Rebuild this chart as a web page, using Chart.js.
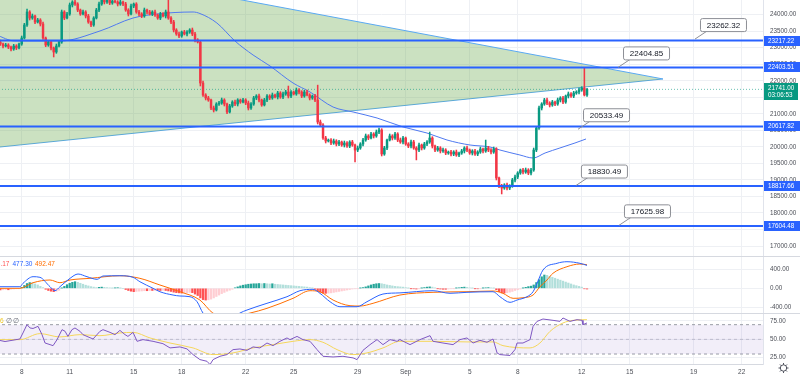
<!DOCTYPE html>
<html lang="en">
<head>
<meta charset="UTF-8">
<title>BTCUSD 4h</title>
<script src="https://cdn.jsdelivr.net/npm/chart.js"></script>
<style>
  html, body { margin: 0; padding: 0; background: #fff; }
  #wrap { position: relative; width: 800px; height: 379px; overflow: hidden; }
  #wrap canvas { position: absolute; left: 0; }
  #main { top: 0; }
  #macd { top: 256px; }
  #rsi { top: 313px; }
</style>
</head>
<body>
<div id="wrap">
  <canvas id="main" width="800" height="256"></canvas>
  <canvas id="macd" width="800" height="57"></canvas>
  <canvas id="rsi" width="800" height="66"></canvas>
</div>
<script>
// time is counted in days of August (Sep 1 = 32)
const tickDays = [8, 11, 15, 18, 22, 25, 29, 32, 36, 39, 43, 46, 50, 53];
const tickLabels = ['8', '11', '15', '18', '22', '25', '29', 'Sep', '5', '8', '12', '15', '19', '22'];
const priceTicks = [17000, 17500, 18000, 18500, 19000, 19500, 20000, 20500, 21000, 21500, 22000, 22500, 23000, 23500, 24000];
const macdTicks = [-400, 0, 400];
const rsiTicks = [25, 50, 75];

// 4h candles, first one Aug 6 12:00
const candleStart = 6.5;
const candlesPerDay = 6;
const firstOpen = 23235;
const closes = [
  23174, 23114, 23053, 23083, 23023, 22962,
  23053, 22993, 23114, 23295, 23689, 24082,
  23900, 23961, 23779, 23840, 23719, 23295,
  23083, 23174, 22993, 22871, 23053, 23174,
  24082, 23900, 24021, 24294, 24385, 24324,
  24142, 24021, 24082, 23961, 23779, 23689,
  23900, 24142, 24324, 24506, 24385, 24445,
  24354, 24415, 24385, 24324, 24385, 24324,
  24142, 24021, 24263, 24324, 24082, 24021,
  23961, 24142, 24082, 24021, 24082, 23991,
  23900, 24021, 23961, 24082, 23900, 23779,
  23537, 23416, 23356, 23477, 23416, 23477,
  23537, 23416, 23235, 23174, 21933, 21570,
  21480, 21419, 21177, 21116, 21298, 21328,
  21419, 21298, 21056, 21237, 21358, 21298,
  21419, 21358, 21419, 21328, 21177, 21298,
  21480, 21540, 21419, 21268, 21419, 21540,
  21480, 21570, 21510, 21631, 21510, 21601,
  21661, 21540, 21661, 21601, 21722, 21661,
  21540, 21661, 21570, 21480, 21540, 21419,
  20753, 20663, 20269, 20178, 20209, 20118,
  20178, 20088, 20148, 20057, 20118, 20027,
  20148, 20057, 19906, 19967, 20088, 20209,
  20330, 20269, 20390, 20330, 20451, 20511,
  19785, 19967, 20209, 20330, 20269, 20390,
  20209, 20148, 20269, 20088, 20027, 20148,
  19967, 19906, 20057, 19967, 20088, 20148,
  20269, 20027, 19906, 19967, 19876, 19906,
  19815, 19845, 19785, 19845, 19755, 19815,
  19876, 19967, 19906, 19815, 19876, 19785,
  19845, 19936, 19876, 19967, 19906, 19845,
  19936, 19059, 18817, 18756, 18847, 18756,
  18817, 18998, 19089, 19210, 19301, 19240,
  19301, 19210, 19301, 19906, 20572, 21177,
  21298, 21419, 21328, 21268, 21358, 21298,
  21419, 21480, 21358, 21540, 21601, 21540,
  21631, 21661, 21722, 21782, 21570, 21741
];
const wickUp = [
  40, 60, 30, 50, 40, 30,   50, 40, 30, 60, 50, 90,   40, 60, 30, 50, 40, 60,
  30, 50, 40, 30, 60, 40,   60, 40, 50, 60, 40, 50,   40, 30, 60, 40, 50, 30,
  40, 50, 60, 60, 40, 50,   40, 30, 50, 40, 60, 30,   50, 40, 60, 30, 40, 50,
  40, 60, 30, 50, 40, 60,   30, 50, 40, 60, 360, 40,  50, 40, 60, 30, 50, 40,
  40, 60, 50, 40, 30, 60,   40, 50, 30, 60, 40, 50,   60, 40, 30, 50, 40, 60,
  40, 30, 50, 40, 60, 40,   50, 40, 60, 30, 50, 40,   40, 60, 30, 50, 40, 60,
  50, 180, 40, 30, 60, 40,  40, 50, 60, 40, 30, 50,   450, 60, 40, 50, 30, 40,
  60, 40, 50, 30, 60, 40,   40, 50, 30, 60, 40, 50,   60, 40, 50, 40, 60, 60,
  40, 50, 30, 60, 40, 50,   40, 60, 50, 30, 40, 60,   50, 40, 60, 30, 50, 40,
  180, 40, 30, 50, 40, 60,  40, 30, 50, 40, 60, 30,   50, 40, 60, 30, 40, 50,
  40, 60, 30, 240, 50, 40,  60, 40, 30, 50, 40, 60,   40, 50, 60, 40, 30, 50,
  60, 40, 50, 60, 40, 60,   40, 50, 60, 40, 50, 30,   60, 40, 50, 30, 60, 40,
  50, 40, 60, 40, 610, 30
];
const wickDown = [
  50, 40, 60, 30, 50, 60,   40, 50, 30, 40, 30, 40,   60, 40, 50, 30, 60, 40,
  50, 40, 60, 150, 40, 30,  40, 50, 30, 40, 60, 40,   50, 40, 30, 60, 40, 50,
  40, 30, 50, 40, 60, 40,   50, 40, 30, 60, 40, 50,   40, 60, 30, 50, 40, 60,
  50, 40, 60, 30, 50, 40,   40, 50, 30, 60, 40, 50,   60, 40, 50, 40, 30, 60,
  40, 50, 60, 30, 90, 40,   60, 40, 50, 60, 30, 40,   40, 60, 50, 30, 40, 50,
  60, 40, 30, 50, 60, 40,   40, 50, 60, 40, 30, 50,   50, 40, 30, 60, 40, 50,
  40, 60, 50, 30, 40, 60,   50, 40, 30, 60, 40, 50,   60, 50, 40, 60, 30, 50,
  40, 60, 50, 40, 60, 40,   50, 40, 360, 50, 40, 60,  40, 50, 30, 60, 40, 50,
  60, 40, 50, 30, 60, 40,   50, 40, 60, 40, 50, 60,   40, 300, 50, 60, 40, 50,
  40, 60, 50, 40, 60, 40,   50, 40, 60, 50, 40, 50,   40, 60, 50, 40, 60, 40,
  50, 40, 60, 40, 50, 60,   40, 60, 50, 180, 40, 60,  50, 40, 60, 50, 40, 60,
  40, 50, 60, 40, 50, 40,   60, 40, 50, 60, 40, 50,   40, 60, 50, 40, 60, 40,
  50, 40, 60, 40, 30, 40
];

// moving average on price
const maDays = [6.4, 7.58, 10.39, 12.89, 14.96, 16.46, 18.71, 19.14, 20.20, 21.33, 22.46, 23.52, 24.96, 26.02, 27.46, 28.71, 30.21, 31.84, 33.33, 34.58, 36.02, 37.27, 37.89, 39.14, 39.96, 40.71, 41.64, 42.58, 43.27];
const maValues = [23390, 23204, 23204, 23507, 23900, 24021, 24082, 24036, 23749, 23204, 22781, 22448, 21933, 21661, 21207, 21056, 20874, 20602, 20420, 20209, 20057, 19997, 19906, 19755, 19664, 19815, 19967, 20118, 20239];

// drawn objects
const triDays = [0, 48.08];
const triUpper = [26423, 22055];
const triLower = [19667, 22055];
const levels = [23217.22, 22403.51, 20617.82, 18817.66, 17604.48];
const calloutPrices = [23262.32, 22404.85, 20533.49, 18830.49, 17625.98];
const calloutDays = [50.08, 45.27, 42.77, 42.64, 45.33];
const countdown = '03:06:53';

// MACD
const macdDays = [6.4, 7.89, 8.08, 8.71, 9.14, 9.77, 10.08, 10.39, 11.02, 11.52, 12.08, 12.71, 13.08, 14.14, 14.96, 15.39, 16.21, 16.64, 17.46, 17.89, 18.52, 18.96, 19.33, 19.77, 20.52, 21.14, 21.64, 22.08, 23.33, 24.58, 25.39, 26.21, 26.64, 27.27, 27.89, 28.96, 29.58, 30.58, 31.64, 33.71, 34.77, 35.83, 37.46, 37.89, 38.52, 38.96, 39.58, 39.96, 40.21, 40.58, 41.46, 42.08, 42.89, 43.33];
const macdValues = [33, 33, 104, 242, 229, 33, -50, 33, 208, 298, 242, 187, 256, 262, 229, 137, 0, -71, -140, -160, -175, -279, -515, -650, -700, -620, -515, -452, -312, -175, -50, -21, -104, -279, -383, -383, -279, -119, -95, -50, -104, -83, -71, -175, -292, -244, -175, -71, 104, 381, 521, 554, 521, 477];
const signalDays = [6.4, 7.89, 8.71, 9.77, 10.39, 11.02, 12.27, 14.14, 15.39, 16.64, 17.89, 19.14, 19.95, 20.96, 22.27, 23.33, 24.96, 26.02, 26.64, 27.46, 28.52, 29.14, 29.96, 31.64, 33.71, 35.83, 37.46, 38.08, 38.71, 39.33, 39.96, 40.39, 40.83, 41.2, 42.08, 42.89, 43.33];
const signalValues = [0, 0, 117, 173, 117, 173, 208, 262, 208, 69, -71, -244, -515, -590, -515, -417, -208, -50, -71, -244, -362, -369, -312, -140, -83, -71, -56, -104, -208, -196, -140, 33, 173, 312, 450, 506, 492];
const histogram = [
  -30, -35, -30, -25, -30, -20, -15, -10, -5,
  20, 60, 100, 120, 115,
  90, 70, 40, 15,
  -20, -45, -60, -70, -60, -40,
  5, 40, 75, 105, 125, 138, 125, 105,
  85, 65, 50, 35, 25,
  15, 20, 25, 20, 15, 10, 5, 8, 12, 5, 0,
  -25, -45, -60, -70, -65,
  -60, -55, -50, -50, -45, -45, -40, -40, -45, -40, -45,
  -55, -65, -80, -90, -95, -100, -95, -90, -85, -90,
  -120, -150, -200, -235, -245, -240, -225, -200,
  -170, -140, -110, -85, -60, -40, -20,
  10, 30, 50, 65, 75, 85, 90, 95, 95, 100, 95, 100, 95, 90, 95,
  85, 80, 75, 70, 65, 60, 55, 50, 45, 40, 35, 30, 25, 15, 5,
  -20, -50, -80, -100, -105, -100, -95,
  -85, -75, -65, -55, -45, -35, -25, -15,
  -10, -5, 5, 15,
  30, 50, 70, 85, 95, 100, 95, 85,
  70, 60, 50, 40, 35,
  30, 25, 15,
  5, -5, -10, -15, -5, 5, 15, 25, 30, 25, 10, -5, -15, -20, -20, -15, -10, -5, 5, 10, 20, 25, 20, 10, 5, -5, -10, -5, 5, 10, 15, 10, 5,
  -30, -70, -95, -100,
  -90, -80, -65, -45, -30, -15,
  5, 20, 35,
  45, 70, 120, 180, 240, 277,
  270, 250, 230, 210, 190, 170, 150, 130, 110, 90, 70, 55, 40, 25,
  -10, -15
];
const macdLegend = ['-15.17', '477.30', '492.47'];

// RSI
const rsiDays = [6.4, 6.96, 7.89, 8.08, 8.33, 8.52, 8.71, 9.02, 9.27, 9.46, 9.77, 9.96, 10.21, 10.52, 10.71, 10.89, 11.14, 11.33, 11.64, 11.83, 12.08, 12.46, 12.89, 13.08, 13.52, 13.83, 14.14, 14.46, 14.64, 14.96, 15.21, 15.58, 16.21, 16.83, 17.27, 17.89, 18.33, 18.71, 19.14, 19.58, 19.77, 19.96, 20.39, 20.83, 21.21, 21.64, 22.08, 22.46, 22.89, 23.33, 23.71, 24.14, 24.58, 24.77, 25.21, 25.58, 26.02, 26.46, 26.83, 27.46, 28.08, 28.71, 28.96, 29.33, 29.77, 30.21, 30.58, 31.02, 31.46, 31.64, 32.27, 32.89, 33.52, 33.71, 34.33, 34.96, 35.39, 35.83, 36.21, 36.64, 37.08, 37.46, 37.71, 37.89, 38.52, 38.83, 38.96, 39.33, 39.77, 39.96, 40.21, 40.58, 41.21, 41.64, 41.83, 42.27, 42.71, 43.02, 43.08, 43.33];
const rsiValues = [49.6, 47, 50.5, 58.7, 70, 65.5, 64.8, 67.7, 56.4, 45, 42.8, 41.4, 49.6, 63.2, 61, 54, 63.2, 65.5, 61, 56.4, 54, 50.5, 60.9, 63.2, 59.5, 56.4, 62.2, 56.4, 54, 59.5, 47.3, 49.6, 47.3, 44.1, 38.3, 39.7, 37, 29.2, 22.4, 20.1, 15.6, 22.4, 26.9, 29.2, 36, 36.9, 35, 39.7, 38.3, 45, 41.4, 47.3, 51.9, 49.6, 54, 49.6, 47.3, 36, 26.9, 26, 26.9, 24.7, 22.4, 35, 42.8, 49.6, 42.8, 49.6, 47.3, 49.6, 42.8, 49.6, 55, 47.3, 45, 42.8, 49.6, 51.9, 45, 48.7, 46, 50.5, 31.5, 29.2, 28, 36, 45, 45, 49.6, 67.7, 74.5, 77.7, 75.9, 74.5, 79.1, 74.5, 76.8, 75.9, 70, 72.3];
const rsiMaDays = [6.4, 7.89, 9.14, 10.39, 11.64, 12.89, 14.14, 14.96, 16.02, 17.27, 18.71, 19.96, 21.21, 22.46, 23.71, 24.96, 26.02, 26.83, 27.71, 28.71, 29.58, 30.58, 31.64, 33.71, 35.83, 37.46, 38.08, 39.77, 40.39, 41.02, 41.83, 42.46, 43.33];
const rsiMaValues = [49.6, 49.6, 57.8, 53.3, 56.4, 55, 58.7, 59.5, 51.9, 45, 38.3, 29.2, 31.5, 38.3, 42.8, 47.3, 49.6, 46, 36, 29.2, 31.5, 38.3, 47.3, 47.3, 46.5, 46.5, 41.4, 38.3, 45, 60.9, 72.3, 75.9, 76.8];
const rsiBands = [70, 50, 30];

// ---------- layout / style ----------
const family = "'Liberation Sans', Arial, sans-serif";
const axisWidth = 37;
const xMin = 6.644;
const xMax = xMin + (800 - axisWidth) / 16;
const gridColor = '#eef0f4';
const labelColor = '#4c4f57';
const upColor = '#089981';
const downColor = '#f23645';

Chart.defaults.font.family = family;
Chart.defaults.animation = false;

const pts = (xs, ys) => xs.map((x, i) => ({ x, y: ys[i] }));
const hline = v => [{ x: xMin - 1, y: v }, { x: xMax + 1, y: v }];

const candleDays = closes.map((c, i) => candleStart + i / candlesPerDay);
const opens = closes.map((c, i) => i === 0 ? firstOpen : closes[i - 1]);
const highs = closes.map((c, i) => Math.max(opens[i], c) + wickUp[i]);
const lows = closes.map((c, i) => Math.min(opens[i], c) - wickDown[i]);
const candleColor = i => closes[i] >= opens[i] ? upColor : downColor;

function timeAxis(showLabels) {
  return {
    type: 'linear', min: xMin, max: xMax, offset: false,
    grid: { color: gridColor, drawTicks: false, offset: false },
    border: { display: showLabels, color: '#d6d9e0' },
    afterBuildTicks: s => { s.ticks = tickDays.map(v => ({ value: v })); },
    ticks: {
      display: showLabels, autoSkip: false, maxRotation: 0, padding: 4,
      color: labelColor, font: { size: 6.5 },
      callback: v => tickLabels[tickDays.indexOf(v)]
    },
    afterFit: s => { s.height = showLabels ? 15 : 0; s.paddingLeft = 0; s.paddingRight = 0; }
  };
}

function valueAxis(min, max, ticks) {
  return {
    type: 'linear', position: 'right', min, max, beginAtZero: false,
    grid: { color: gridColor, drawTicks: false },
    border: { display: true, color: '#e0e3eb' },
    afterBuildTicks: s => { s.ticks = ticks.map(v => ({ value: v })); },
    ticks: { padding: 7, color: labelColor, font: { size: 6.3 }, callback: v => v.toFixed(2) },
    afterFit: s => { s.width = axisWidth; s.paddingTop = 0; s.paddingBottom = 0; }
  };
}

const baseOptions = {
  responsive: false,
  devicePixelRatio: 1,
  events: [],
  layout: { padding: 0 },
  plugins: { legend: { display: false }, tooltip: { enabled: false } }
};

function label(ctx, s, x, y, color, size, align, weight) {
  ctx.font = (weight || '') + ' ' + size + 'px ' + family;
  ctx.fillStyle = color;
  ctx.textAlign = align || 'left';
  ctx.textBaseline = 'middle';
  ctx.fillText(s, x, y);
}

// price tags, last price and price-label drawings
const mainOverlay = {
  id: 'mainOverlay',
  afterDraw(chart) {
    const { ctx, scales: { x, y } } = chart;
    ctx.save();
    levels.forEach(v => {
      const py = Math.round(y.getPixelForValue(v));
      ctx.fillStyle = '#2962ff';
      ctx.fillRect(x.right + 1, py - 5, axisWidth, 10);
      label(ctx, v.toFixed(2), x.right + 5, py + 0.5, '#fff', 6.3);
    });
    const last = closes[closes.length - 1];
    const ly = Math.round(y.getPixelForValue(last));
    ctx.fillStyle = upColor;
    ctx.fillRect(x.right + 1, ly - 6, axisWidth - 3, 17);
    label(ctx, last.toFixed(2), x.right + 5, ly - 1, '#fff', 6.3);
    label(ctx, countdown, x.right + 5, ly + 6, '#fff', 6.3);

    calloutPrices.forEach((p, i) => {
      const ax = x.getPixelForValue(calloutDays[i]);
      const ay = y.getPixelForValue(p);
      const bx = ax + 5, by = ay - 21, bw = 46, bh = 13;
      ctx.strokeStyle = '#8d8f96';
      ctx.lineWidth = 1;
      ctx.beginPath();
      ctx.moveTo(ax, ay);
      ctx.lineTo(bx + 7, by + bh);
      ctx.stroke();
      ctx.fillStyle = '#fff';
      ctx.beginPath();
      ctx.roundRect(bx + 0.5, by + 0.5, bw, bh, 2);
      ctx.fill();
      ctx.stroke();
      label(ctx, p.toFixed(2), bx + bw / 2 + 0.5, by + bh / 2 + 1, '#131722', 8, 'center');
    });
    ctx.restore();
  }
};

new Chart(document.getElementById('main'), {
  type: 'bar',
  data: {
    datasets: [
      // horizontal levels
      ...levels.map(v => ({
        type: 'line', data: hline(v), borderColor: '#2962ff', borderWidth: 2,
        pointRadius: 0, order: 0
      })),
      {
        type: 'bar', data: candleDays.map((d, i) => ({ x: d, y: [opens[i], closes[i]] })),
        backgroundColor: ctx => candleColor(ctx.dataIndex), barThickness: 1.8,
        minBarLength: 1, grouped: false, borderWidth: 0, order: 1
      },
      {
        type: 'bar', data: candleDays.map((d, i) => ({ x: d, y: [lows[i], highs[i]] })),
        backgroundColor: ctx => candleColor(ctx.dataIndex), barThickness: 0.9,
        grouped: false, borderWidth: 0, order: 2
      },
      {
        type: 'line', data: pts(maDays, maValues), borderColor: '#4f79f0', borderWidth: 1,
        pointRadius: 0, cubicInterpolationMode: 'monotone', order: 3
      },
      {
        type: 'line', data: hline(closes[closes.length - 1]), borderColor: 'rgba(8,153,129,0.6)',
        borderWidth: 1, borderDash: [1, 2], pointRadius: 0, order: 4
      },
      // triangle
      {
        type: 'line', data: pts(triDays, triUpper), borderColor: '#5aa9f2', borderWidth: 1,
        pointRadius: 0, fill: '+1', backgroundColor: 'rgba(104,168,72,0.34)', order: 5
      },
      {
        type: 'line', data: pts(triDays, triLower), borderColor: '#5aa9f2', borderWidth: 1,
        pointRadius: 0, order: 6
      }
    ]
  },
  options: {
    ...baseOptions,
    scales: {
      x: timeAxis(false),
      y: valueAxis(24445 - 256 * 30.26, 24445, priceTicks)
    }
  },
  plugins: [mainOverlay]
});

// MACD pane
function histColor(i) {
  const v = histogram[i];
  const prev = i > 0 ? histogram[i - 1] : 0;
  if (v >= 0) return v >= prev ? '#26a69a' : '#b2dfdb';
  return v <= prev ? '#ff5252' : '#ffcdd2';
}

const macdOverlay = {
  id: 'macdOverlay',
  afterDraw(chart) {
    const { ctx } = chart;
    ctx.save();
    ctx.fillStyle = '#d6d9e0';
    ctx.fillRect(0, 0, 800, 1);
    label(ctx, macdLegend[0], -9, 8, '#ff5252', 6.5);
    label(ctx, macdLegend[1], 12.5, 8, '#2962ff', 6.5);
    label(ctx, macdLegend[2], 35, 8, '#ff6d00', 6.5);
    ctx.restore();
  }
};

new Chart(document.getElementById('macd'), {
  type: 'bar',
  data: {
    datasets: [
      {
        type: 'line', data: pts(macdDays, macdValues), borderColor: '#2962ff', borderWidth: 1,
        pointRadius: 0, cubicInterpolationMode: 'monotone', order: 1
      },
      {
        type: 'line', data: pts(signalDays, signalValues), borderColor: '#ff6d00', borderWidth: 1,
        pointRadius: 0, cubicInterpolationMode: 'monotone', order: 2
      },
      {
        type: 'bar', data: candleDays.map((d, i) => ({ x: d, y: histogram[i] })),
        backgroundColor: ctx => histColor(ctx.dataIndex), barThickness: 1.6,
        grouped: false, borderWidth: 0, order: 3
      }
    ]
  },
  options: {
    ...baseOptions,
    scales: {
      x: timeAxis(false),
      y: valueAxis(-514, 673, macdTicks)
    }
  },
  plugins: [macdOverlay]
});

// RSI pane + time axis
const rsiOverlay = {
  id: 'rsiOverlay',
  afterDraw(chart) {
    const { ctx } = chart;
    ctx.save();
    ctx.fillStyle = '#d6d9e0';
    ctx.fillRect(0, 0, 800, 1);
    label(ctx, '76', -3.5, 8, '#f0c929', 6.5);
    label(ctx, '\u2205', 6, 8, '#6a6d78', 6.5);
    label(ctx, '\u2205', 12.5, 8, '#6a6d78', 6.5);
    // settings gear
    const gx = 783.5, gy = 55;
    ctx.strokeStyle = '#50535e';
    ctx.lineWidth = 1;
    ctx.beginPath();
    ctx.arc(gx, gy, 3.2, 0, Math.PI * 2);
    ctx.stroke();
    for (let k = 0; k < 8; k++) {
      const a = k * Math.PI / 4;
      ctx.beginPath();
      ctx.moveTo(gx + Math.cos(a) * 3.2, gy + Math.sin(a) * 3.2);
      ctx.lineTo(gx + Math.cos(a) * 5, gy + Math.sin(a) * 5);
      ctx.stroke();
    }
    ctx.restore();
  }
};

new Chart(document.getElementById('rsi'), {
  type: 'line',
  data: {
    datasets: [
      {
        data: pts(rsiDays, rsiValues), borderColor: '#7e57c2', borderWidth: 1,
        pointRadius: 0, order: 1
      },
      {
        data: pts(rsiMaDays, rsiMaValues), borderColor: '#f5d65a', borderWidth: 1,
        pointRadius: 0, cubicInterpolationMode: 'monotone', order: 2
      },
      {
        data: hline(rsiBands[0]), borderColor: '#9a9da6', borderWidth: 1, borderDash: [3, 3],
        pointRadius: 0, fill: '+1', backgroundColor: 'rgba(126,87,194,0.1)', order: 3
      },
      {
        data: hline(rsiBands[2]), borderColor: '#9a9da6', borderWidth: 1, borderDash: [3, 3],
        pointRadius: 0, order: 4
      },
      {
        data: hline(rsiBands[1]), borderColor: 'rgba(154,157,166,0.5)', borderWidth: 1, borderDash: [3, 3],
        pointRadius: 0, order: 5
      }
    ]
  },
  options: {
    ...baseOptions,
    scales: {
      x: timeAxis(true),
      y: valueAxis(16.4, 85.9, rsiTicks)
    }
  },
  plugins: [rsiOverlay]
});
</script>
</body>
</html>
